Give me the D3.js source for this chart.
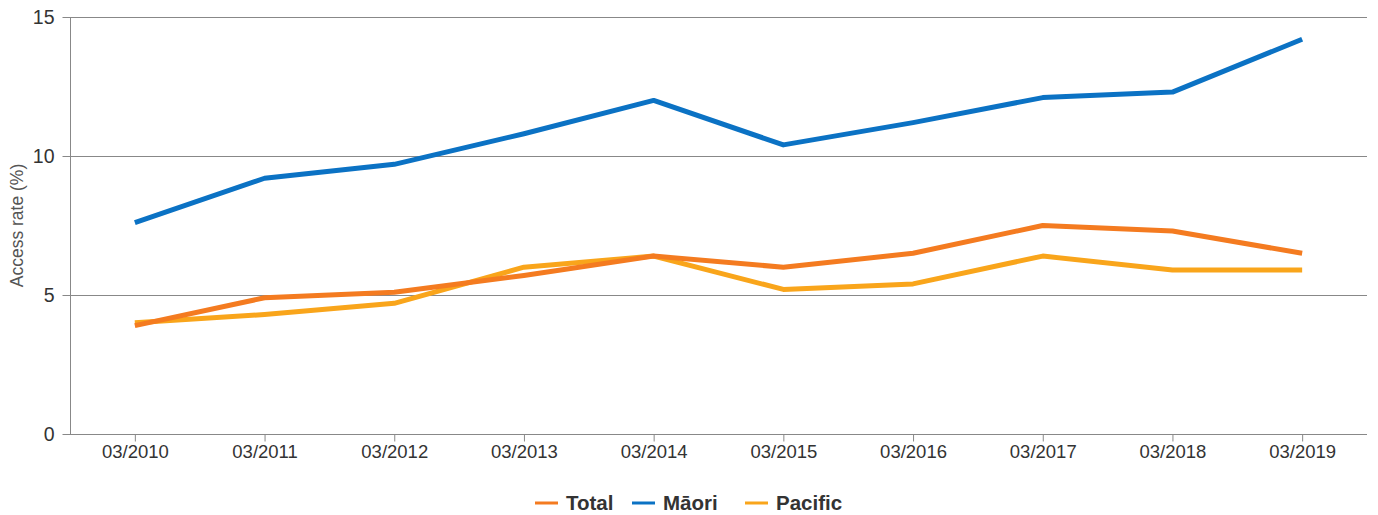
<!DOCTYPE html>
<html><head><meta charset="utf-8">
<script src="https://cdn.jsdelivr.net/npm/d3@7"></script>
<style>body{margin:0;background:#fff;font-family:"Liberation Sans",Arial,sans-serif;}</style>
</head><body><svg id="c" width="1378" height="515"></svg>
<script>
const categories = ["03/2010","03/2011","03/2012","03/2013","03/2014","03/2015","03/2016","03/2017","03/2018","03/2019"];
const total   = [3.9,4.9,5.1,5.7,6.4,6.0,6.5,7.5,7.3,6.5];
const maori   = [7.6,9.2,9.7,10.8,12.0,10.4,11.2,12.1,12.3,14.2];
const pacific = [4.0,4.3,4.7,6.0,6.4,5.2,5.4,6.4,5.9,5.9];
const yTicks = [0,5,10,15];
const seriesNames = ["Total","Māori","Pacific"];
const colors = ["#f47b20","#0b72c4","#f9a51b"];

const svg = d3.select("#c");
const L=70, R=1367, T=17, B=434;
const x = d3.scalePoint().domain(categories).range([L,R]).padding(0.5);
const y = d3.scaleLinear().domain([0,15]).range([B,T]);
const FF = "Liberation Sans, Arial, sans-serif";

svg.append("g").selectAll("line").data(yTicks.filter(d=>d>0)).join("line")
  .attr("x1",L).attr("x2",R).attr("y1",d=>y(d)+0.5).attr("y2",d=>y(d)+0.5)
  .attr("stroke","#888").attr("stroke-width",1);

const ya = svg.append("g").attr("transform",`translate(${L+0.5},0)`)
  .call(d3.axisLeft(y).tickValues(yTicks).tickSize(8).tickPadding(8).tickSizeOuter(0));
ya.select(".domain").attr("stroke","#888").attr("d",`M0,${B}V${T}`);
ya.selectAll(".tick line").attr("stroke","#888");
ya.selectAll("text").attr("font-size",19.5).attr("fill","#333").attr("font-family",FF);

const xa = svg.append("g").attr("transform",`translate(0,${B+0.5})`)
  .call(d3.axisBottom(x).tickSize(7).tickPadding(3).tickSizeOuter(0));
xa.select(".domain").attr("stroke","#888").attr("d",`M${L},0H${R}`);
xa.selectAll(".tick line").attr("stroke","#888");
xa.selectAll("text").attr("font-size",18.5).attr("fill","#333").attr("font-family",FF);

svg.append("text").attr("transform",`translate(23,${(T+B)/2}) rotate(-90)`)
  .attr("text-anchor","middle").attr("font-size",17.5).attr("fill","#555").attr("font-family",FF)
  .text("Access rate (%)");

const data = [total, maori, pacific];
const line = d3.line().x((d,i)=>x(categories[i])).y(d=>y(d));
[2,0,1].forEach(k=>{
  svg.append("path").attr("d",line(data[k])).attr("fill","none")
    .attr("stroke",colors[k]).attr("stroke-width",5).attr("stroke-linejoin","round");
});

const lg = svg.append("g").attr("font-family",FF);
const lx = [535,632,745];
seriesNames.forEach((n,i)=>{
  lg.append("line").attr("x1",lx[i]).attr("x2",lx[i]+23).attr("y1",503).attr("y2",503)
    .attr("stroke",colors[i]).attr("stroke-width",3);
  lg.append("text").attr("x",lx[i]+31).attr("y",510).attr("font-size",20.5).attr("font-weight","bold")
    .attr("fill","#333").text(n);
});
</script></body></html>
